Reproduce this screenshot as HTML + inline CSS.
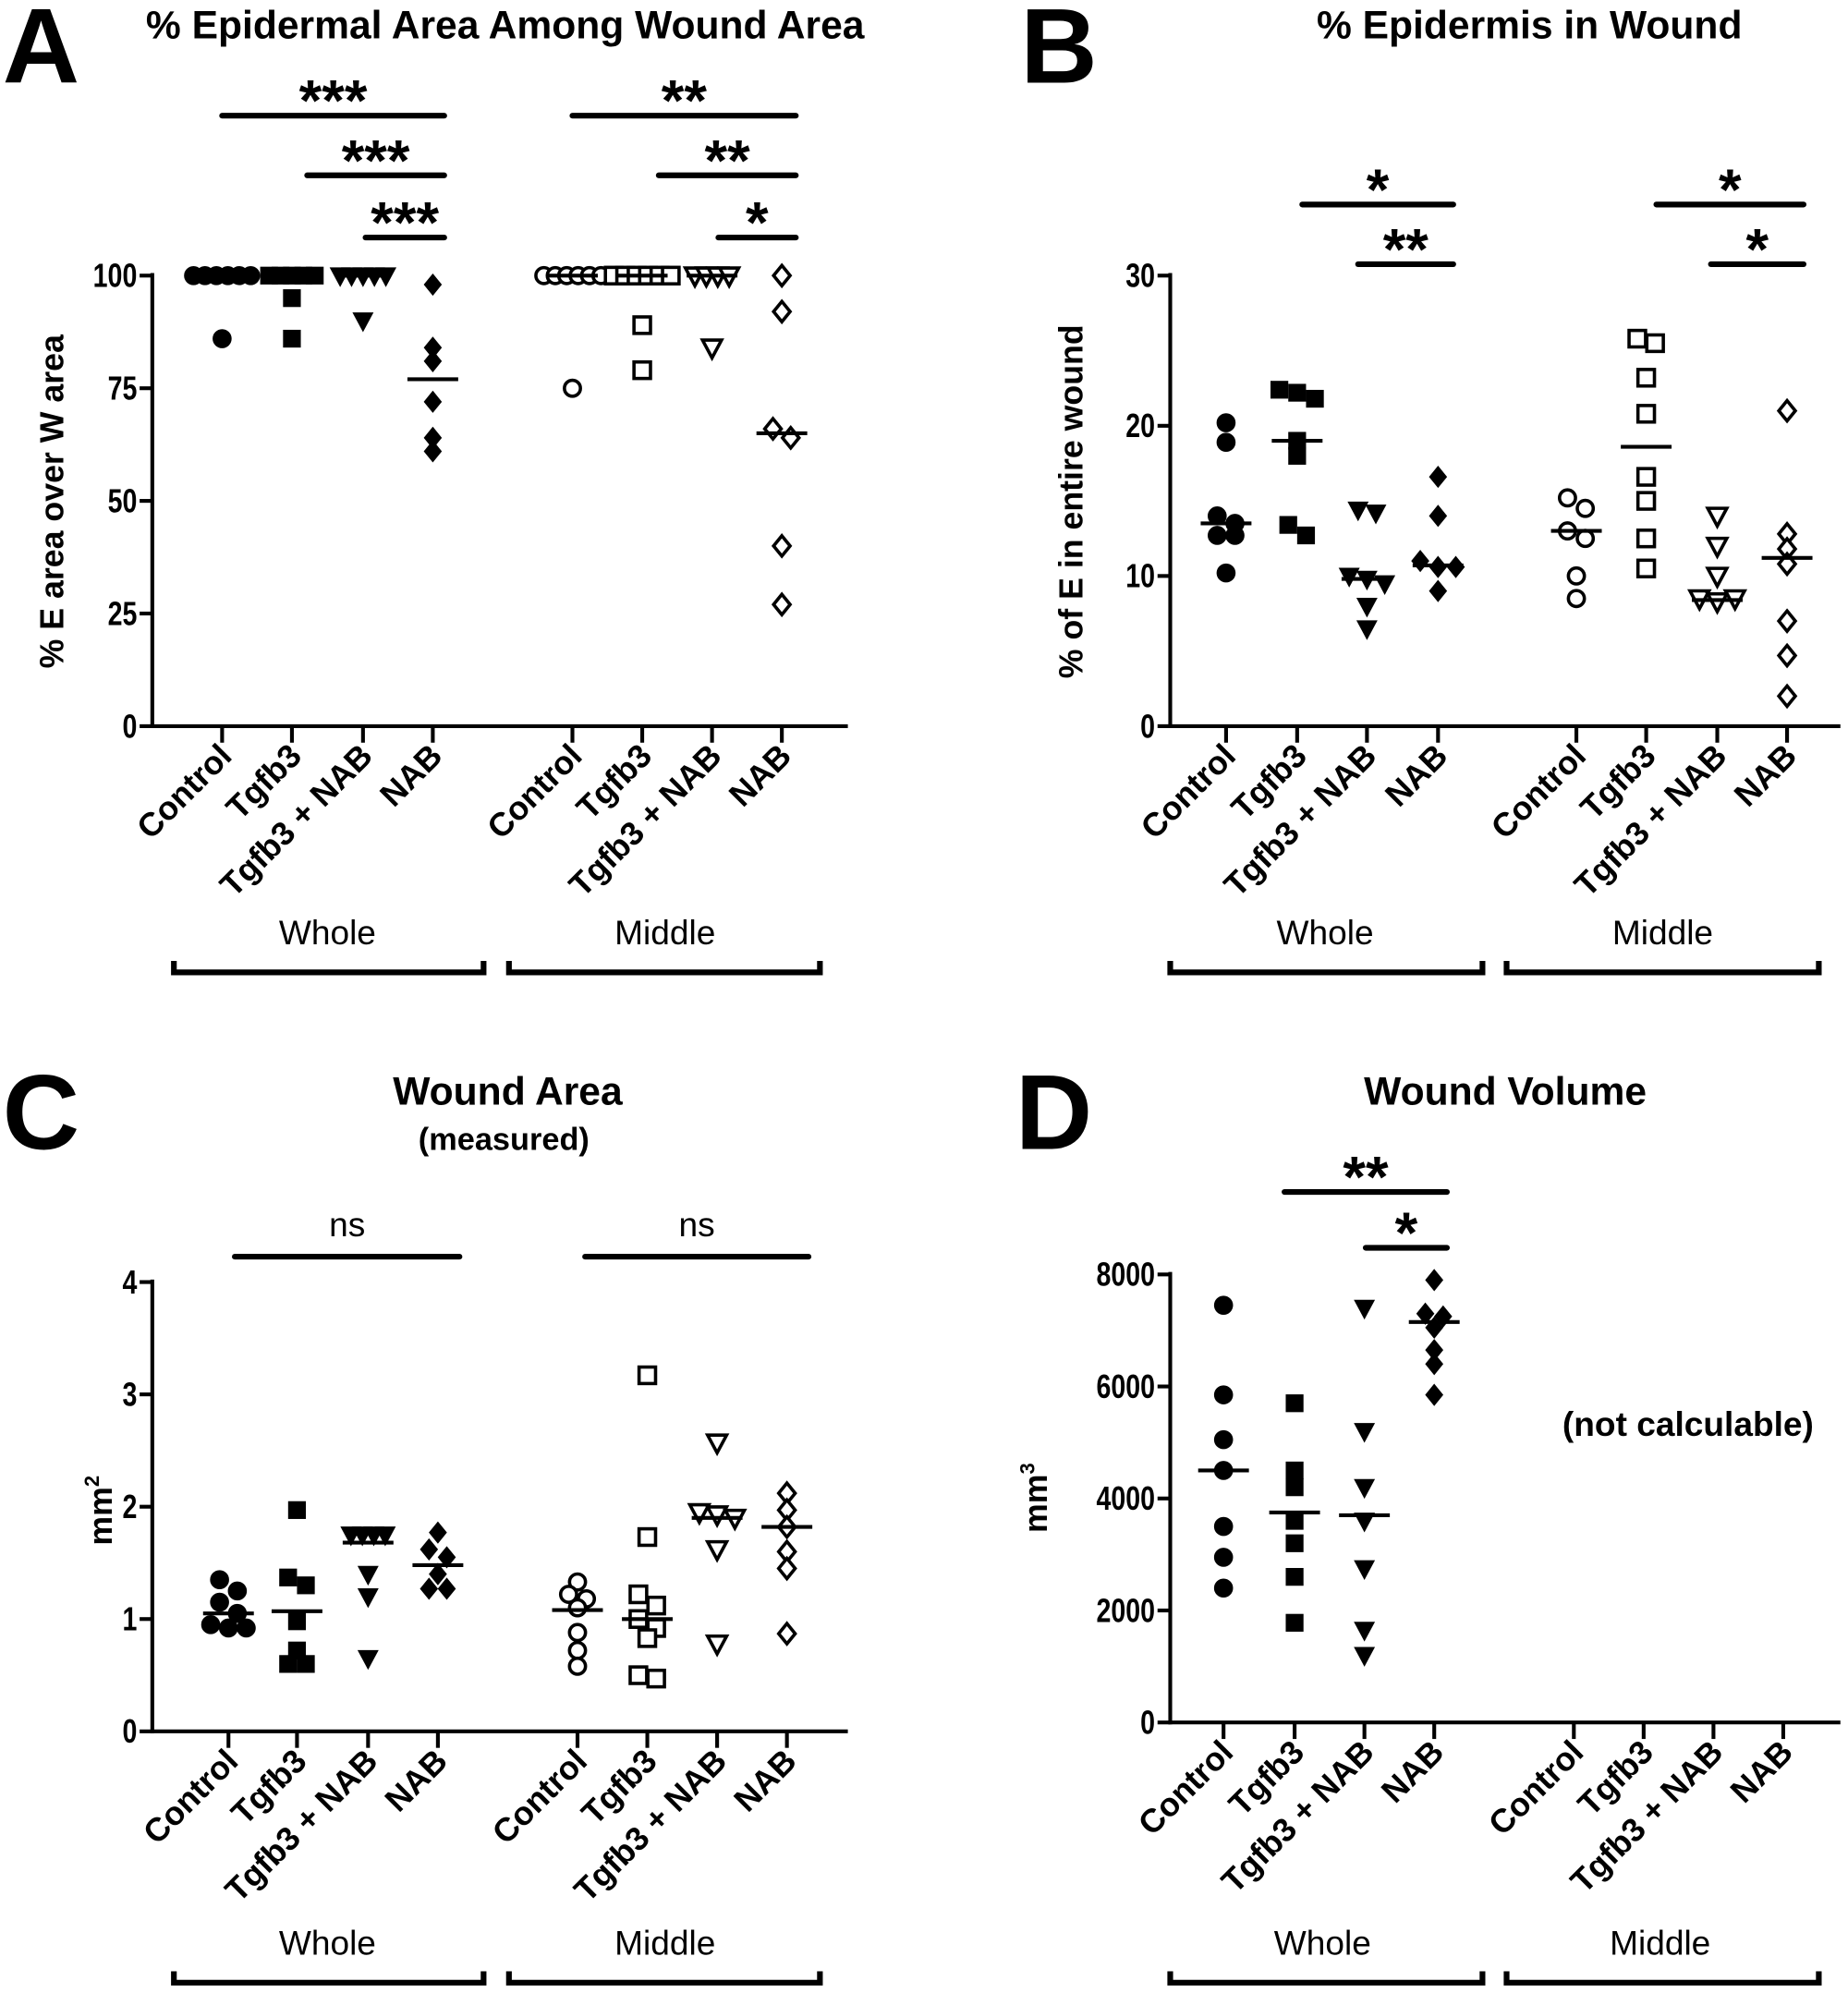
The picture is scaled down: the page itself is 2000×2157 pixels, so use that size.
<!DOCTYPE html>
<html><head><meta charset="utf-8"><style>
html,body{margin:0;padding:0;background:#fff;}
svg{display:block;font-family:"Liberation Sans",Arial,sans-serif;}
</style></head><body>
<svg id="fig" width="2000" height="2157" viewBox="0 0 1456 1570" xmlns="http://www.w3.org/2000/svg"></svg>
<script>
// ---- data ----
const categories = ["Control","Tgfb3","Tgfb3 + NAB","NAB"];
const groups = ["Whole","Middle"];
const aTicks = [0,25,50,75,100];
const aWhole = [[100,100,100,100,100,100,86],[100,100,100,100,100,95,86],[100,100,100,100,100,90],[98,84,81,72,64,61]];
const aMiddle = [[100,100,100,100,100,100,75],[100,100,100,100,100,100,89,79],[100,100,100,100,84],[100,92,66,64,40,27]];
const aMedW = [100,100,100,77];
const aMedM = [100,100,100,65];
const bTicks = [0,10,20,30];
const bWhole = [[20.2,18.9,14,13.5,12.7,12.7,10.2],[22.4,22.2,21.8,19,18,13.4,12.7],[14.4,14.2,10,9.8,9.5,8,6.5],[16.6,14,11,10.6,10.6,9]];
const bMiddle = [[15.2,14.5,13,12.5,10,8.5],[25.8,25.5,23.2,20.8,16.6,15,12.5,10.5],[14,12,10,8.5,8.3,8.5],[21,12.8,11.8,10.8,7,4.7,2]];
const bMedW = [13.5,19,9.8,10.7];
const bMedM = [13,18.6,8.4,11.2];
const cTicks = [0,1,2,3,4];
const cWhole = [[1.35,1.25,1.15,1.05,0.95,0.92,0.92],[1.97,1.37,1.3,0.98,0.72,0.6,0.6],[1.75,1.75,1.75,1.75,1.4,1.2,0.65],[1.77,1.62,1.55,1.4,1.27,1.27]];
const cMiddle = [[1.33,1.22,1.18,1.1,0.88,0.72,0.58],[3.17,1.73,1.22,1.12,1.0,0.92,0.83,0.5,0.47],[2.57,1.95,1.93,1.9,1.62,0.78],[2.12,1.97,1.82,1.6,1.45,0.87]];
const cMedW = [1.05,1.07,1.68,1.48];
const cMedM = [1.08,1.0,1.9,1.82];
const dTicks = [0,2000,4000,6000,8000];
const dWhole = [[7450,5850,5050,4500,3500,2950,2400],[5700,4500,4200,3600,3200,2600,1780],[7400,5200,4200,3600,2750,1650,1200],[7900,7300,7250,7050,6650,6400,5850]];
const dMedW = [4500,3750,3700,7150];

const svg = document.getElementById('fig');
const NS = "http://www.w3.org/2000/svg";
function mk(tag, attrs, parent){
  const e = document.createElementNS(NS, tag);
  for (const k in attrs) e.setAttribute(k, attrs[k]);
  (parent||svg).appendChild(e);
  return e;
}
function txt(x,y,s,size,opts,parent){
  const t = mk('text', Object.assign({x:x,y:y,'font-size':size,'text-anchor':'middle','font-weight':'bold',fill:'#000'},opts||{}), parent);
  t.textContent = s;
  return t;
}
const shapes = ['circle','square','tri','diamond'];
function marker(g, shape, filled, x, y){
  const st = filled ? {fill:'#000',stroke:'#000','stroke-width':1} : {fill:'#fff',stroke:'#000','stroke-width':2.6};
  let e;
  if (shape==='circle') e = mk('circle', Object.assign({cx:x,cy:y,r:filled?7:6.3},st), g);
  else if (shape==='square') e = mk('rect', Object.assign({x:x-6.5,y:y-6.5,width:13,height:13},st), g);
  else if (shape==='tri') e = mk('polygon', Object.assign({points:`${x-7.5},${y-6} ${x+7.5},${y-6} ${x},${y+8}`},st), g);
  else e = mk('polygon', Object.assign({points:`${x},${y-8} ${x+6.5},${y} ${x},${y+8} ${x-6.5},${y}`},st), g);
  return e;
}

function panel(cfg){
  const g = mk('g', {});
  
  
  const y = v => cfg.y0 - (v - cfg.ticks[0])/(cfg.ticks[cfg.ticks.length-1]-cfg.ticks[0])*(cfg.y0-cfg.y1);
  const L = txt(cfg.ax-cfg.letterDx, cfg.letterY, cfg.letter, 84, {'text-anchor':'start'}, g);
  
  
  const T = txt(cfg.titleX, cfg.titleY, cfg.title, 31, {}, g);
  
  
  if (cfg.subtitle){
    const S = txt(cfg.titleX-3, cfg.titleY+36, cfg.subtitle, 25, {}, g);
    
    
  }
  const ya = mk('line',{x1:cfg.ax,y1:y(cfg.ticks[cfg.ticks.length-1])-2,x2:cfg.ax,y2:cfg.y0+1.5,stroke:'#000','stroke-width':3},g);
  
  
  const xa = mk('line',{x1:cfg.ax-1.5,y1:cfg.y0,x2:cfg.axEnd,y2:cfg.y0,stroke:'#000','stroke-width':3},g);
  
  
  cfg.ticks.forEach(v=>{
    mk('line',{x1:cfg.ax-10,y1:y(v),x2:cfg.ax,y2:y(v),stroke:'#000','stroke-width':3},g);
    const tx = cfg.ax-12;
    const t = txt(tx, y(v)+9, String(v), 26, {'text-anchor':'end','transform':`translate(${tx},0) scale(0.8,1) translate(${-tx},0)`}, g);
    
    
  });
  const yl = txt(0,0,cfg.ylabel,26,{transform:`translate(${cfg.ylx},${cfg.yly}) rotate(-90)`},g);
  
  
  if (cfg.ysup){
    const ts = mk('tspan',{'font-size':16,dy:-10},yl); ts.textContent = cfg.ysup;
  }
  const xs = cfg.xs;
  for (let gi=0; gi<2; gi++){
    categories.forEach((c,ci)=>{
      const x = xs[gi*4+ci];
      mk('line',{x1:x,y1:cfg.y0,x2:x,y2:cfg.y0+13,stroke:'#000','stroke-width':3},g);
      const t = txt(0,0,c,26,{'text-anchor':'end',transform:`translate(${x+9},${cfg.y0+25}) rotate(-45)`},g);
      
      
    });
    const gx0 = cfg.brackets[gi][0], gx1 = cfg.brackets[gi][1];
    const gl = txt(cfg.groupX[gi], cfg.groupY, groups[gi], 27, {'font-weight':'normal'}, g);
    
    
    const br = mk('path',{d:`M${gx0},${cfg.groupY+13} V${cfg.groupY+22} H${gx1} V${cfg.groupY+13}`,fill:'none',stroke:'#000','stroke-width':4.5},g);
    
    
    const data = gi===0 ? cfg.whole : cfg.middle;
    const meds = gi===0 ? cfg.medW : cfg.medM;
    if (!data) continue;
    data.forEach((vals,ci)=>{
      const cx = xs[gi*4+ci];
      const pg = mk('g',{},g);
      
      
      const rows = [];
      vals.forEach(v=>{
        let r = rows.find(r=>Math.abs(y(r.v)-y(v))<9);
        if (!r){ r={v:v,items:[]}; rows.push(r);} r.items.push(v);
      });
      rows.forEach(r=>{
        const n = r.items.length;
        r.items.forEach((v,i)=>{
          const dx = (i-(n-1)/2)*(n>3?9:14);
          const m = marker(pg, shapes[ci], gi===0 || cfg.allFilled, cx+dx, y(v));
          
          
        });
      });
      const md = mk('line',{x1:cx-20,y1:y(meds[ci]),x2:cx+20,y2:y(meds[ci]),stroke:'#000','stroke-width':3},g);
      
      
    });
  }
  (cfg.sig||[]).forEach(s=>{
    const l = mk('line',{x1:s[0],y1:s[2],x2:s[1],y2:s[2],stroke:'#000','stroke-width':4.5,'stroke-linecap':'round'},g);
    
    
    const t = txt((s[0]+s[1])/2, s[2]-(s[3]==='ns'?16:-4), s[3], s[3]==='ns'?27:46, s[3]==='ns'?{'font-weight':'normal'}:{}, g);
    
    
  });
}

panel({name:'panel-a',letter:'A',letterDx:118,letterY:65,title:'% Epidermal Area Among Wound Area',titleX:398,titleY:30,
  ax:120,axEnd:668,y0:572,y1:217,ticks:aTicks,ylabel:'% E area over W area',ylx:50,yly:395,
  xs:[175,230,286,341,451,506,561,616],groupY:744,groupX:[258,524],brackets:[[137,381],[401,646]],
  whole:aWhole,middle:aMiddle,medW:aMedW,medM:aMedM,
  sig:[[175,350,91,'***'],[242,350,138,'***'],[288,350,187,'***'],[451,627,91,'**'],[519,627,138,'**'],[566,627,187,'*']]});
panel({name:'panel-b',letter:'B',letterDx:118,letterY:65,title:'% Epidermis in Wound',titleX:1205,titleY:30,
  ax:922,axEnd:1450,y0:572,y1:217,ticks:bTicks,ylabel:'% of E in entire wound',ylx:853,yly:395,
  xs:[966,1022,1077,1133,1242,1297,1353,1408],groupY:744,groupX:[1044,1310],brackets:[[922,1168],[1187,1433]],
  whole:bWhole,middle:bMiddle,medW:bMedW,medM:bMedM,
  sig:[[1026,1145,161,'*'],[1070,1145,208,'**'],[1305,1421,161,'*'],[1348,1421,208,'*']]});
panel({name:'panel-c',letter:'C',letterDx:118,letterY:905,title:'Wound Area',titleX:400,titleY:870,subtitle:'(measured)',
  ax:120,axEnd:668,y0:1364,y1:1010,ticks:cTicks,ylabel:'mm',ysup:'2',ylx:88,yly:1190,
  xs:[180,234,290,345,455,510,565,620],groupY:1540,groupX:[258,524],brackets:[[137,381],[401,646]],
  whole:cWhole,middle:cMiddle,medW:cMedW,medM:cMedM,
  sig:[[185,362,990,'ns'],[461,637,990,'ns']]});
panel({name:'panel-d',letter:'D',letterDx:122,letterY:905,title:'Wound Volume',titleX:1186,titleY:870,
  ax:922,axEnd:1450,y0:1357,y1:1004,ticks:dTicks,ylabel:'mm',ysup:'3',ylx:825,yly:1180,
  xs:[964,1020,1075,1130,1240,1295,1350,1405],groupY:1540,groupX:[1042,1308],brackets:[[922,1168],[1187,1433]],
  whole:dWhole,middle:null,medW:dMedW,
  sig:[[1012,1140,939,'**'],[1076,1140,983,'*']]});
const nc = txt(1330,1131,'(not calculable)',27,{});


</script>
</body></html>
